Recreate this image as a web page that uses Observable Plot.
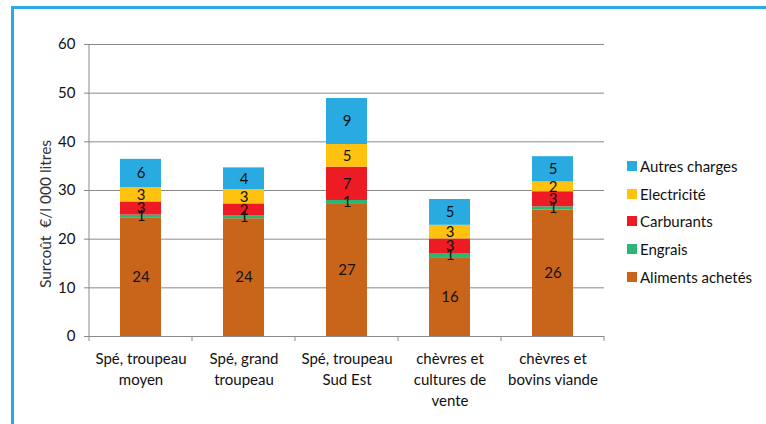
<!DOCTYPE html>
<html>
<head>
<meta charset="utf-8">
<script src="https://cdn.jsdelivr.net/npm/d3@7"></script>
<script src="https://cdn.jsdelivr.net/npm/@observablehq/plot@0.6"></script>
<style>
  html, body { margin: 0; padding: 0; background: #fff; }
  #wrap { position: relative; width: 766px; height: 424px; overflow: hidden; font-family: Lato, "Open Sans", sans-serif; }
  #frame { position: absolute; left: 11px; top: 6px; width: 760px; height: 440px; border: 3px solid #2aaae2; box-sizing: border-box; }
  #chart { position: absolute; left: 0; top: 0; }
  #legend { position: absolute; left: 627px; top: 152px; display: flex; flex-direction: column; gap: 0; }
  .item { display: flex; align-items: center; height: 27.8px; font-size: 15px; color: #111; }
  .sw { width: 10px; height: 10px; margin-right: 3px; }
</style>
</head>
<body>
<div id="wrap">
  <div id="frame"></div>
  <div id="chart"></div>
  <div id="legend"></div>
</div>
<script>
const categories = ["Spé, troupeau\nmoyen", "Spé, grand\ntroupeau", "Spé, troupeau\nSud Est", "chèvres et\ncultures de\nvente", "chèvres et\nbovins viande"];
const series = ["Aliments achetés", "Engrais", "Carburants", "Electricité", "Autres charges"];
const colors = ["#c8651b", "#2bb673", "#ed1c24", "#ffc20e", "#29abe2"];
const aliments   = [24.4, 24.2, 27.3, 16.2, 26.0];
const engrais    = [0.55, 0.65, 0.65, 0.85, 0.65];
const carburants = [2.7, 2.4, 6.85, 3.0, 3.1];
const electricite= [2.95, 2.95, 4.65, 2.8, 2.0];
const autres     = [5.8, 4.45, 9.45, 5.3, 5.2];
const yTicks = [0, 10, 20, 30, 40, 50, 60];
const yLabel = "Surcoût  €/l 000 litres";

const values = [aliments, engrais, carburants, electricite, autres];
const data = [];
series.forEach((s, i) => categories.forEach((c, j) => data.push({cat: c, series: s, value: values[i][j]})));

const plot = Plot.plot({
  width: 766,
  height: 424,
  marginLeft: 89,
  marginRight: 162,
  marginTop: 44,
  marginBottom: 88,
  style: {fontFamily: "Lato, 'Open Sans', sans-serif", fontSize: "15px", color: "#111", background: "transparent"},
  x: {domain: categories, paddingInner: 0.6, paddingOuter: 0.3, label: null},
  y: {domain: [0, 60], label: null},
  color: {domain: series, range: colors},
  marks: [
    Plot.gridY(yTicks, {stroke: "#8a8a8a", strokeOpacity: 1, strokeWidth: 1}),
    Plot.barY(data, {x: "cat", y: "value", fill: "series", order: series}),
    Plot.text(data, Plot.stackY({x: "cat", y: "value", z: "series", order: series, text: d => String(Math.round(d.value)), fill: "#111", fontSize: 15})),
    Plot.axisY(yTicks, {tickSize: 5, tickPadding: 9, stroke: "#8a8a8a", fontSize: 15, label: null}),
    Plot.ruleY([0], {stroke: "#8a8a8a"}),
    Plot.axisX({tickSize: 0, tickPadding: 12, fontSize: 15, lineHeight: 1.42, label: null}),
  ]
});
document.getElementById("chart").appendChild(plot);

// y-axis line, category separator ticks, rotated axis label
const svg = d3.select(plot);
const xs = plot.scale("x");
const ys = plot.scale("y");
const x0 = xs.range[0], x1 = xs.range[1];
const step = (x1 - x0) / categories.length;
const yb = ys.apply(0), yt = ys.apply(60);
svg.append("line").attr("x1", x0).attr("x2", x0).attr("y1", yt).attr("y2", yb).attr("stroke", "#8a8a8a");
const bounds = d3.range(categories.length + 1).map(i => x0 + i * step);
svg.append("g").selectAll("line").data(bounds).join("line")
  .attr("x1", d => d).attr("x2", d => d).attr("y1", yb).attr("y2", yb + 5).attr("stroke", "#8a8a8a");
svg.append("text").attr("transform", `translate(47,${(yt + yb) / 2 + 24}) rotate(-90)`)
  .attr("text-anchor", "middle").attr("dominant-baseline", "middle")
  .attr("font-size", 15.5).attr("fill", "#333").text(yLabel);

// legend
const leg = d3.select("#legend");
series.slice().reverse().forEach(s => {
  const it = leg.append("div").attr("class", "item");
  it.append("div").attr("class", "sw").style("background", colors[series.indexOf(s)]);
  it.append("span").text(s);
});
</script>
</body>
</html>
